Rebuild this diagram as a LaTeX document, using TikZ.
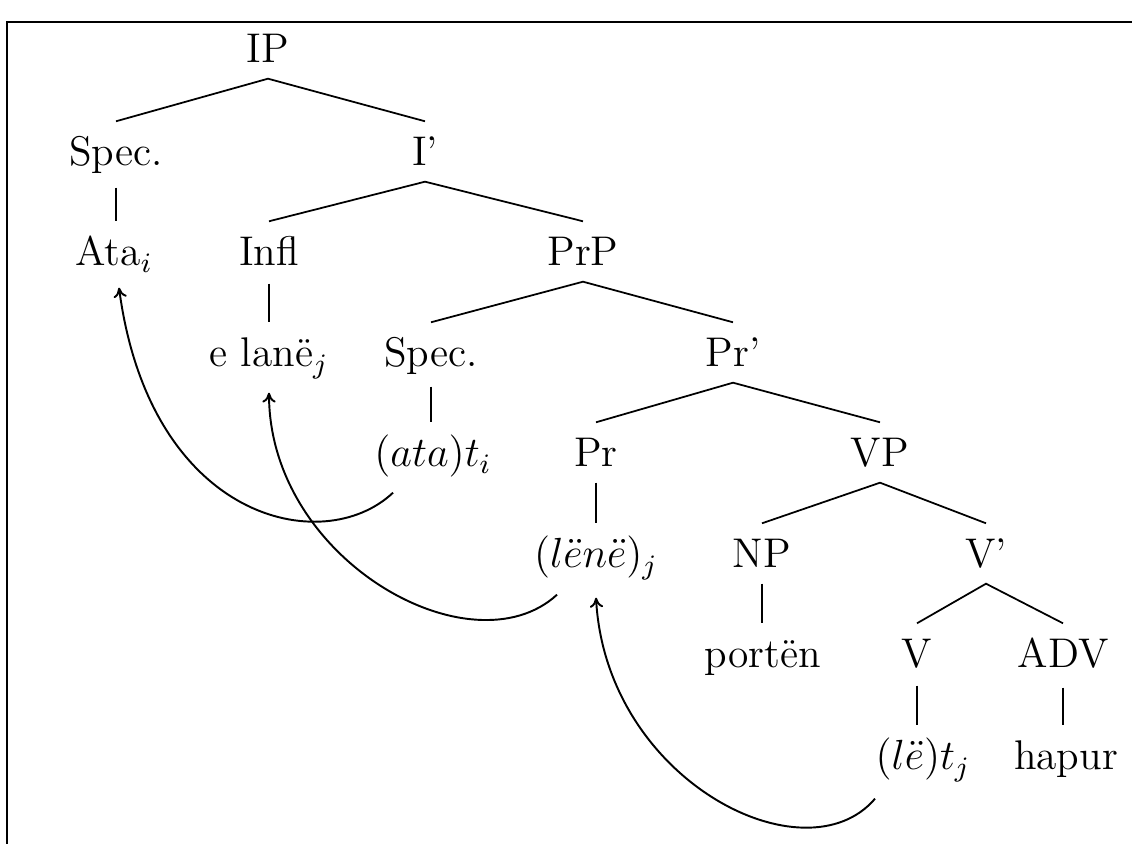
\documentclass[tikz,border=0pt]{standalone}
\usepackage{tikz}
\usetikzlibrary{arrows.meta}

\begin{document}
\begin{tikzpicture}[
  font=\fontsize{11.8}{14}\selectfont, >={To[length=2.8pt,width=3.8pt]},
  cat/.style={anchor=base,inner sep=0pt,text height=0.44cm,text depth=0.15cm},
  branch/.style={line width=0.5pt},
  move/.style={->,line width=0.55pt},
]
\useasboundingbox (0,0) rectangle (11.32,-8.44);
% frame, open to the right and below
\draw[line width=0.6pt] (0.07,-8.44) -- (0.07,-0.22) -- (11.32,-0.22);
% categories
\node[cat] (IP)     at (2.68,-0.63) {IP};
\node[cat] (spec1)  at (1.16,-1.66) {Spec.};
\node[cat] (ibar)   at (4.25,-1.66) {I'};
\node[cat] (ata)    at (1.14,-2.66) {Ata$_i$};
\node[cat] (infl)   at (2.69,-2.66) {Infl};
\node[cat] (prp)    at (5.83,-2.66) {PrP};
\node[cat] (elane)  at (2.69,-3.67) {e lanë$_j$};
\node[cat] (spec2)  at (4.31,-3.67) {Spec.};
\node[cat] (prbar)  at (7.33,-3.67) {Pr'};
\node[cat] (atat)   at (4.33,-4.67) {$(ata)t_i$};
\node[cat] (pr)     at (5.96,-4.67) {Pr};
\node[cat] (vp)     at (8.80,-4.67) {VP};
\node[cat] (lene)   at (5.96,-5.68) {$(l\ddot{e}n\ddot{e})_j$};
\node[cat] (np)     at (7.62,-5.68) {NP};
\node[cat] (vbar)   at (9.86,-5.68) {V'};
\node[cat] (porten) at (7.63,-6.68) {portën};
\node[cat] (v)      at (9.17,-6.68) {V};
\node[cat] (adv)    at (10.63,-6.68) {ADV};
\node[cat] (let)    at (9.23,-7.70) {$(l\ddot{e})t_j$};
\node[cat] (hapur)  at (10.66,-7.70) {hapur};
% branches
\draw[branch] (spec1.north) -- (IP.south) -- (ibar.north);
\draw[branch] (infl.north) -- (ibar.south) -- (prp.north);
\draw[branch] (spec2.north) -- (prp.south) -- (prbar.north);
\draw[branch] (pr.north) -- (prbar.south) -- (vp.north);
\draw[branch] (np.north) -- (vp.south) -- (vbar.north);
\draw[branch] (v.north) -- (vbar.south) -- (adv.north);
\draw[branch] ([yshift=-0.06cm]spec1.south) -- (spec1.south |- ata.north);
\draw[branch] ([yshift=-0.02cm]infl.south) -- (infl.south |- elane.north);
\draw[branch] ([yshift=-0.04cm]spec2.south) -- (spec2.south |- atat.north);
\draw[branch] (pr.south) -- (pr.south |- lene.north);
\draw[branch] (np.south) -- (np.south |- porten.north);
\draw[branch] ([yshift=-0.02cm]v.south) -- (v.south |- let.north);
\draw[branch] ([yshift=-0.04cm]adv.south) -- (adv.south |- hapur.north);
% movement
\draw[move] ([shift={(-0.40,-0.10)}]atat.south) .. controls +(-0.70,-0.66) and +(0.31,-2.33) .. ([shift={(0.05,-0.06)}]ata.south);
\draw[move] ([shift={(-0.39,-0.11)}]lene.south) .. controls +(-0.85,-0.78) and +(0,-1.68) .. ([yshift=-0.1cm]elane.south);
\draw[move] ([shift={(-0.48,-0.13)}]let.south) .. controls +(-0.70,-0.82) and +(0.10,-1.83) .. ([yshift=-0.14cm]lene.south);
\end{tikzpicture}
\end{document}
